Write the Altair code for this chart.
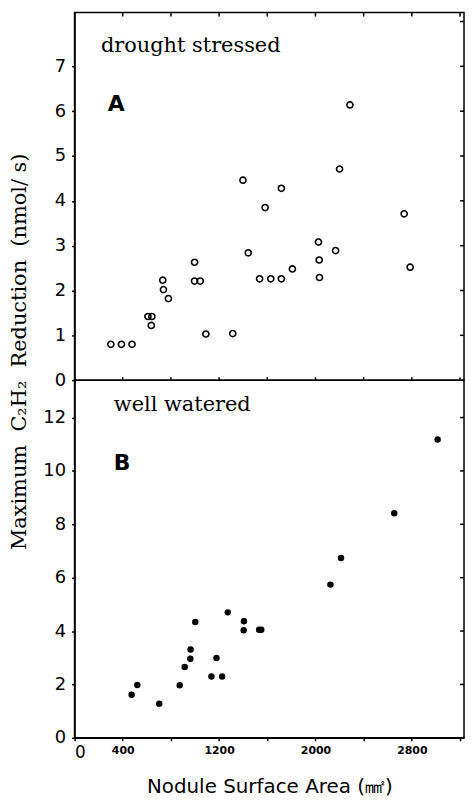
import altair as alt
import pandas as pd

# ---------------- data ----------------
# Panel A: drought stressed (open circles)
a_area = [301, 389, 477, 609, 642, 637, 732, 738, 779, 996, 996, 1043, 1090,
          1313, 1398, 1442, 1536, 1582, 1629, 1717, 1717, 1808, 2025, 2031,
          2033, 2167, 2200, 2286, 2736, 2786]
a_rate = [0.80, 0.80, 0.80, 1.42, 1.42, 1.22, 2.23, 2.02, 1.82, 2.63, 2.21, 2.21,
          1.03, 1.04, 4.46, 2.84, 2.26, 3.85, 2.26, 4.28, 2.26, 2.48, 3.08, 2.68,
          2.29, 2.89, 4.71, 6.14, 3.71, 2.52]

# Panel B: well watered (filled circles)
b_area = [474, 521, 703, 873, 914, 961, 963, 1002, 1136, 1178, 1225, 1272, 1406,
          1404, 1532, 1550, 2124, 2212, 2654, 3014]
b_rate = [1.61, 1.98, 1.28, 1.97, 2.65, 2.96, 3.31, 4.34, 2.30, 2.99, 2.30, 4.70,
          4.37, 4.03, 4.05, 4.05, 5.74, 6.74, 8.41, 11.18]

x_ticks = [0, 400, 800, 1200, 1600, 2000, 2400, 2800, 3200]
x_labels = [0, 400, 1200, 2000, 2800]
ya_ticks = [0, 1, 2, 3, 4, 5, 6, 7, 8]
yb_ticks = [0, 2, 4, 6, 8, 10, 12]

NB = "\u00a0"
y_title = f"Maximum{NB} C₂H₂{NB} Reduction{NB} (nmol/{NB}s)"
x_title = "Nodule Surface Area (㎟)"

# ---------------- layout constants ----------------
W = 392
HA = 370
HB = 360
X_DOMAIN = [0, 3233]
YA_DOMAIN = [0, 8.2]
YB_DOMAIN = [0, 13.4]

dfA = pd.DataFrame({"area": a_area, "rate": a_rate})
dfB = pd.DataFrame({"area": b_area, "rate": b_rate})
dfXt = pd.DataFrame({"area": x_ticks[1:]})
dfYa = pd.DataFrame({"rate": ya_ticks[1:]})
dfYb = pd.DataFrame({"rate": yb_ticks[1:]})

label_font = "DejaVu Sans"
serif = "DejaVu Serif"

xA = alt.X("area:Q", scale=alt.Scale(domain=X_DOMAIN, nice=False, zero=False), axis=None)
yA = alt.Y("rate:Q", scale=alt.Scale(domain=YA_DOMAIN, nice=False),
           axis=alt.Axis(values=ya_ticks[:-1], title=y_title, grid=False,
                         titleX=-55, titleY=341, titleAngle=270, titleAlign="center",
                         titleBaseline="middle", titleFont=serif, titleFontSize=21,
                         titleFontWeight="normal", titleColor="black", titleLimit=600,
                         labelFont=label_font, labelFontSize=18, labelColor="black",
                         labelPadding=6, tickSize=3, tickColor="black", tickWidth=1.5,
                         domainColor="black", domainWidth=1.5))

xB = alt.X("area:Q", scale=alt.Scale(domain=X_DOMAIN, nice=False, zero=False),
           axis=alt.Axis(values=x_ticks, format="d", title=x_title, grid=False,
                         labelExpr="indexof([0,400,1200,2000,2800], datum.value) >= 0 ? datum.label : ''",
                         labelFont=label_font, labelColor="black",
                         labelFontSize={"condition": {"test": "datum.value === 0", "value": 17}, "value": 11},
                         labelFontWeight={"condition": {"test": "datum.value === 0", "value": "normal"}, "value": "bold"},
                         labelPadding=4, tickSize=3, tickColor="black", tickWidth=1.5,
                         domainColor="black", domainWidth=1.5,
                         titleFont=label_font, titleFontSize=20, titleFontWeight="normal",
                         titleColor="black", titlePadding=16))
yB = alt.Y("rate:Q", scale=alt.Scale(domain=YB_DOMAIN, nice=False),
           axis=alt.Axis(values=yb_ticks, title=None, grid=False,
                         labelFont=label_font, labelFontSize=18, labelColor="black",
                         labelPadding=6, tickSize=3, tickColor="black", tickWidth=1.5,
                         domainColor="black", domainWidth=1.5))

ptsA = alt.Chart(dfA).mark_point(shape="circle", filled=False, color="black",
                                 strokeWidth=1.6, size=38, opacity=1).encode(x=xA, y=yA)
rtA = alt.Chart(dfYa).mark_rule(color="black", strokeWidth=1.5).encode(
    y=yA, x=alt.value(W - 4), x2=alt.value(W))
topA = alt.Chart(dfXt).mark_rule(color="black", strokeWidth=1.5).encode(
    x=xA, y=alt.value(0), y2=alt.value(4))
botA = alt.Chart(dfXt).mark_rule(color="black", strokeWidth=1.5).encode(
    x=xA, y=alt.value(HA - 3), y2=alt.value(HA))

ann_sA = pd.DataFrame({"area": [219], "rate": [7.46], "t": ["drought stressed"]})
ann_lA = pd.DataFrame({"area": [276], "rate": [6.17], "t": ["A"]})
txtA1 = alt.Chart(ann_sA).mark_text(align="left", baseline="middle", font=serif,
                                    fontSize=21, color="black").encode(x=xA, y=yA, text="t:N")
txtA2 = alt.Chart(ann_lA).mark_text(align="left", baseline="middle", font=label_font,
                                    fontSize=22, fontWeight="bold", color="black").encode(x=xA, y=yA, text="t:N")

panelA = alt.layer(ptsA, rtA, topA, botA, txtA1, txtA2).properties(width=W, height=HA)

ptsB = alt.Chart(dfB).mark_point(shape="circle", filled=True, color="black",
                                 size=42, opacity=1).encode(x=xB, y=yB)
rtB = alt.Chart(dfYb).mark_rule(color="black", strokeWidth=1.5).encode(
    y=yB, x=alt.value(W - 4), x2=alt.value(W))
ann_sB = pd.DataFrame({"area": [326], "rate": [12.45], "t": ["well watered"]})
ann_lB = pd.DataFrame({"area": [326], "rate": [10.3], "t": ["B"]})
txtB1 = alt.Chart(ann_sB).mark_text(align="left", baseline="middle", font=serif,
                                    fontSize=21, color="black").encode(x=xB, y=yB, text="t:N")
txtB2 = alt.Chart(ann_lB).mark_text(align="left", baseline="middle", font=label_font,
                                    fontSize=22, fontWeight="bold", color="black").encode(x=xB, y=yB, text="t:N")

panelB = alt.layer(ptsB, rtB, txtB1, txtB2).properties(width=W, height=HB)

chart = alt.vconcat(panelA, panelB, spacing=0, bounds="flush").resolve_scale(
    x="independent", y="independent"
).properties(
    padding={"left": 0, "top": 0, "right": 0, "bottom": 0},
    background="white",
).configure_view(stroke="black", strokeWidth=1.5)

chart.save("out.html", embed_options={"renderer": "svg", "actions": False})
